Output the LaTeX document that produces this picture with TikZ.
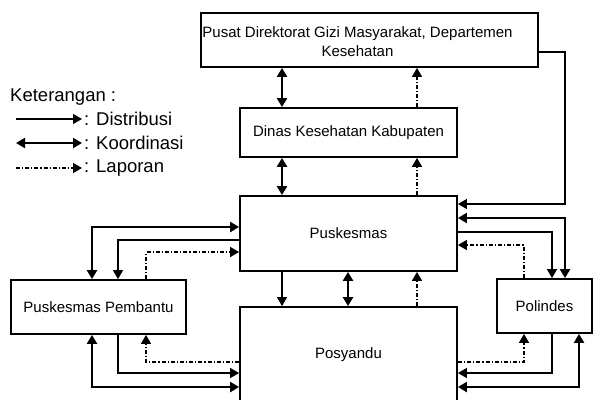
\documentclass[tikz,border=0pt]{standalone}
\usepackage{fontspec}
\setmainfont{Liberation Sans}
\usetikzlibrary{arrows.meta}
\begin{document}
\begin{tikzpicture}[x=1pt,y=-1pt,
  box/.style={draw, line width=1.8pt, inner sep=0pt, fill=white, font=\fontsize{15}{18}\selectfont, align=center},
  legtext/.style={anchor=west, inner sep=0pt, font=\fontsize{18.5}{22}\selectfont},
  dist/.style={line width=1.3pt, -{Triangle[length=9pt,width=10pt]}},
  koor/.style={line width=2.5pt, {Triangle[length=9pt,width=10pt]}-{Triangle[length=9pt,width=10pt]}},
  lap/.style={line width=1.5pt, dash pattern=on 4pt off 2pt on 1.2pt off 2pt, -{Triangle[length=9pt,width=10pt]}},
]
\useasboundingbox (0,0) rectangle (593,399);

% boxes
\node[box, minimum width=337pt, minimum height=54pt,
  label={[font=\fontsize{15}{19}\selectfont, align=center, xshift=-12pt, yshift=-2pt]center:Pusat Direktorat Gizi Masyarakat, Departemen\\Kesehatan}] (pusat) at (369.5,40) {};
\node[box, minimum width=217pt, minimum height=49pt] (dinas) at (348.5,132.5) {Dinas Kesehatan Kabupaten};
\node[box, minimum width=217pt, minimum height=75pt] (pkm) at (348.5,233.5) {Puskesmas};
\node[box, minimum width=217pt, minimum height=95pt] (pos) at (348.5,354.5) {Posyandu};
\node[box, minimum width=175pt, minimum height=54pt] (pemb) at (98.5,307) {Puskesmas Pembantu};
\node[box, minimum width=95pt, minimum height=54pt] (pol) at (544.5,306) {Polindes};

% columns and rows
\coordinate (xa) at (282,0);
\coordinate (xb) at (348,0);
\coordinate (xc) at (417,0);
\coordinate (xr1) at (565,0);
\coordinate (xr2) at (552,0);
\coordinate (xr3) at (524,0);
\coordinate (xr4) at (579,0);
\coordinate (xl1) at (92,0);
\coordinate (xl2) at (118,0);
\coordinate (xl3) at (146,0);
\coordinate (y52) at (0,52);
\coordinate (y204) at (0,204);
\coordinate (y218) at (0,218);
\coordinate (y232) at (0,232);
\coordinate (y245) at (0,245);
\coordinate (y227) at (0,227);
\coordinate (y240) at (0,240);
\coordinate (y252) at (0,252);
\coordinate (y362) at (0,362);
\coordinate (y373) at (0,373);
\coordinate (y387) at (0,387);

% vertical central connectors
\draw[koor] (xa |- pusat.south) -- (xa |- dinas.north);
\draw[lap] (xc |- dinas.north) -- (xc |- pusat.south);
\draw[koor] (xa |- dinas.south) -- (xa |- pkm.north);
\draw[lap] (xc |- pkm.north) -- (xc |- dinas.south);
\draw[dist] (xa |- pkm.south) -- (xa |- pos.north);
\draw[koor] (xb |- pkm.south) -- (xb |- pos.north);
\draw[lap] (xc |- pos.north) -- (xc |- pkm.south);

% right side
\draw[dist] (pusat.east |- y52) -- (xr1 |- y52) |- (pkm.east |- y204);
\draw[koor] (pkm.east |- y218) -| (xr1 |- pol.north);
\draw[dist] (pkm.east |- y232) -| (xr2 |- pol.north);
\draw[lap] (xr3 |- pol.north) |- (pkm.east |- y245);
\draw[lap] (pos.east |- y362) -| (xr3 |- pol.south);
\draw[dist] (xr2 |- pol.south) |- (pos.east |- y373);
\draw[koor] (xr4 |- pol.south) |- (pos.east |- y387);

% left side
\draw[koor] (xl1 |- pemb.north) |- (pkm.west |- y227);
\draw[dist] (pkm.west |- y240) -| (xl2 |- pemb.north);
\draw[lap] (xl3 |- pemb.north) |- (pkm.west |- y252);
\draw[lap] (pos.west |- y362) -| (xl3 |- pemb.south);
\draw[dist] (xl2 |- pemb.south) |- (pos.west |- y373);
\draw[koor] (xl1 |- pemb.south) |- (pos.west |- y387);

% legend
\node[legtext] (ket) at (10,97) {Keterangan :};
\coordinate (l1a) at (16,119); \coordinate (l1b) at (82,119);
\coordinate (l2a) at (16,143); \coordinate (l2b) at (82,143);
\coordinate (l3a) at (16,168); \coordinate (l3b) at (82,168);
\draw[dist] (l1a) -- (l1b);
\draw[koor] (l2a) -- (l2b);
\draw[lap] (l3a) -- (l3b);
\node[legtext] (tdist) at (84,119) {: Distribusi};
\node[legtext] (tkoor) at (84,143) {: Koordinasi};
\node[legtext] (tlap) at (84,168) {: Laporan};
\end{tikzpicture}
\end{document}
